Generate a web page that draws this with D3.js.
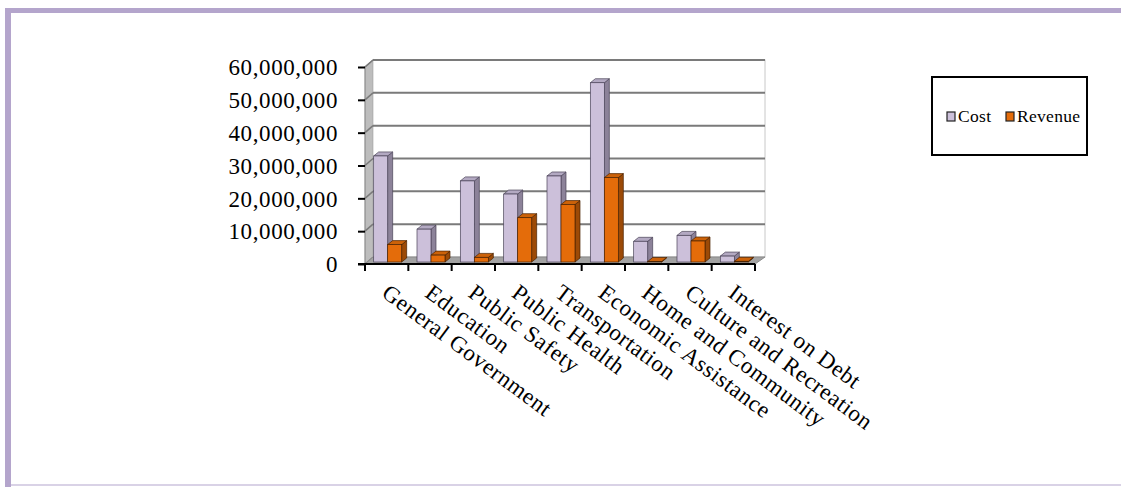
<!DOCTYPE html>
<html>
<head>
<meta charset="utf-8">
<script src="https://cdn.jsdelivr.net/npm/d3@7"></script>
<style>
  html, body { margin: 0; padding: 0; background: #fff; }
  svg { display: block; font-family: "Liberation Serif", "Times New Roman", serif; }
</style>
</head>
<body>
<svg id="chart" width="1121" height="487"></svg>
<script>
// Municipal cost vs revenue by function (3D clustered columns)

const CATEGORIES = [
  "General Government", "Education", "Public Safety", "Public Health",
  "Transportation", "Economic Assistance", "Home and Community",
  "Culture and Recreation", "Interest on Debt"
];
const COST    = [32300000, 10000000, 24700000, 20700000, 26200000, 54600000, 6300000, 8100000, 1800000];
const REVENUE = [ 5300000,  2100000,  1400000, 13500000, 17500000, 25700000,  150000, 6400000,  200000];
const Y_TICKS = [0, 10000000, 20000000, 30000000, 40000000, 50000000, 60000000];
const SERIES_NAMES = ["Cost", "Revenue"];

const COLORS = {
  cost:    { front: "#ccc0da", side: "#8c8299", top: "#b3a9c2", edge: "#4a4358" },
  revenue: { front: "#e46c0a", side: "#9c4a07", top: "#cc6209", edge: "#4a2200" }
};

const svg = d3.select("#chart");

// frame — purple left/top rule, faint bottom rule
svg.append("rect").attr("x", 5).attr("y", 8).attr("width", 1116).attr("height", 5).attr("fill", "#b4a5cc");
svg.append("rect").attr("x", 5).attr("y", 8).attr("width", 6).attr("height", 479).attr("fill", "#b4a5cc");
svg.append("rect").attr("x", 11).attr("y", 484).attr("width", 1110).attr("height", 2).attr("fill", "#d9d2e6");

// plot geometry
const X0 = 365, X1 = 755, Y0 = 264, Y1 = 67;
const D  = { dx: 8, dy: -7 };     // wall depth
const BD = { dx: 5, dy: -4 };     // bar depth
const IN = { dx: 1, dy: -2 };     // bar inset from front plane
const BAR_W = 14;

const y = d3.scaleLinear().domain([0, 60000000]).range([Y0, Y1]);
const x = d3.scaleBand().domain(CATEGORIES).range([X0, X1]).padding(0);

const pt = p => p.map(q => q.join(",")).join(" ");

// left wall
svg.append("polygon")
  .attr("points", pt([[X0, Y1], [X0 + D.dx, Y1 + D.dy], [X0 + D.dx, Y0 + D.dy], [X0, Y0]]))
  .attr("fill", "#bdbdbd").attr("stroke", "#8a8a8a").attr("stroke-width", 1.2);

// back wall
svg.append("rect")
  .attr("x", X0 + D.dx).attr("y", Y1 + D.dy)
  .attr("width", X1 - X0 + 2).attr("height", Y0 - Y1)
  .attr("fill", "#fff").attr("stroke", "#c8c8c8").attr("stroke-width", 1);

// floor
svg.append("polygon")
  .attr("points", pt([[X0, Y0], [X0 + D.dx, Y0 + D.dy], [X1 + D.dx + 2, Y0 + D.dy], [X1, Y0]]))
  .attr("fill", "#a3a3a3").attr("stroke", "#8a8a8a").attr("stroke-width", 1);

// gridlines on back & left wall
const grid = svg.append("g");
Y_TICKS.filter(v => v > 0).forEach(v => {
  grid.append("line")
    .attr("x1", X0 + D.dx).attr("x2", X1 + D.dx + 2)
    .attr("y1", y(v) + D.dy).attr("y2", y(v) + D.dy)
    .attr("stroke", "#7a7a7a").attr("stroke-width", 2);
  grid.append("line")
    .attr("x1", X0).attr("x2", X0 + D.dx)
    .attr("y1", y(v)).attr("y2", y(v) + D.dy)
    .attr("stroke", "#7a7a7a").attr("stroke-width", 1.5);
});

// y axis (front plane)
const yAxis = svg.append("g")
  .attr("transform", `translate(${X0},0)`)
  .call(d3.axisLeft(y).tickValues(Y_TICKS).tickSize(7).tickPadding(20)
          .tickFormat(d3.format(",")));
yAxis.select(".domain").remove();
yAxis.selectAll(".tick line").attr("stroke", "#000").attr("stroke-width", 2);
yAxis.selectAll(".tick text")
  .attr("fill", "#000").style("font-size", "23px")
  .style("font-family", "'Liberation Serif', serif")
  .style("letter-spacing", "0.6px")
  .attr("dy", "0.34em");

// bars
function drawBar(g, x0, v, c) {
  const left = x0 + IN.dx, right = left + BAR_W;
  const base = y(0) + IN.dy, top = y(v) + IN.dy;
  // side
  g.append("polygon")
    .attr("points", pt([[right, top], [right + BD.dx, top + BD.dy], [right + BD.dx, base + BD.dy], [right, base]]))
    .attr("fill", c.side).attr("stroke", c.edge).attr("stroke-width", 0.7);
  // top
  g.append("polygon")
    .attr("points", pt([[left, top], [left + BD.dx, top + BD.dy], [right + BD.dx, top + BD.dy], [right, top]]))
    .attr("fill", c.top).attr("stroke", c.edge).attr("stroke-width", 0.7);
  // front
  g.append("rect")
    .attr("x", left).attr("y", top).attr("width", BAR_W).attr("height", Math.max(0.5, base - top))
    .attr("fill", c.front).attr("stroke", c.edge).attr("stroke-width", 0.7);
}

const bars = svg.append("g");
CATEGORIES.forEach((cat, i) => {
  const cx = x(cat) + x.bandwidth() / 2;
  drawBar(bars, cx - BAR_W, COST[i], COLORS.cost);
  drawBar(bars, cx, REVENUE[i], COLORS.revenue);
});

// x axis (front plane)
const xAxis = svg.append("g")
  .attr("transform", `translate(0,${Y0})`)
  .call(d3.axisBottom(x).tickSize(0).tickFormat(""));
xAxis.select(".domain").attr("stroke", "#000").attr("stroke-width", 2)
  .attr("d", `M${X0 - 7},0H${X1}`);
const bounds = CATEGORIES.map(c => x(c)).concat([X1]);
xAxis.selectAll(".bound").data(bounds).join("line")
  .attr("x1", d => d).attr("x2", d => d).attr("y1", 0).attr("y2", 7)
  .attr("stroke", "#000").attr("stroke-width", 2);

svg.append("g").selectAll("text").data(CATEGORIES).join("text")
  .attr("transform", d => `translate(${x(d) + x.bandwidth() / 2 + 4},${Y0 + 18}) rotate(36.5)`)
  .attr("dy", "0.75em")
  .attr("font-size", 23)
  .attr("letter-spacing", "0.6px")
  .attr("fill", "#000")
  .text(d => d);

// legend
const lg = svg.append("g");
lg.append("rect").attr("x", 932).attr("y", 77).attr("width", 155).attr("height", 78)
  .attr("fill", "#fff").attr("stroke", "#000").attr("stroke-width", 2);
const legendItems = [
  { name: SERIES_NAMES[0], c: COLORS.cost, x: 947 },
  { name: SERIES_NAMES[1], c: COLORS.revenue, x: 1006 }
];
legendItems.forEach(it => {
  lg.append("rect").attr("x", it.x).attr("y", 112).attr("width", 8).attr("height", 9)
    .attr("fill", it.c.front).attr("stroke", "#222").attr("stroke-width", 1.2);
  lg.append("text").attr("x", it.x + 11).attr("y", 122)
    .attr("font-size", 17.5).attr("letter-spacing", "0.3px").attr("fill", "#000").text(it.name);
});
</script>
</body>
</html>
